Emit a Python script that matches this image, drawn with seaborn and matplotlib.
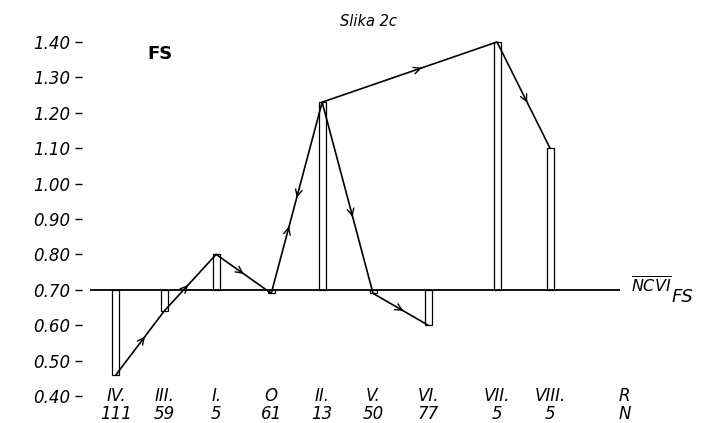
import matplotlib
matplotlib.use('Agg')
import matplotlib.pyplot as plt
import pandas as pd
import seaborn as sns

# data
groups = ['IV.', 'III.', 'I.', 'O', 'II.', 'V.', 'VI.', 'VII.', 'VIII.', 'R']
counts = ['111', '59', '5', '61', '13', '50', '77', '5', '5', 'N']
x_pos = [0.49, 1.40, 2.38, 3.42, 4.38, 5.34, 6.38, 7.68, 8.68, 10.09]
ncvi = [0.46, 0.64, 0.80, 0.69, 1.23, 0.69, 0.60, 1.40, 1.10, None]
mean_ncvi = 0.70

# paths (indices into the lists above) and arrow spots on each segment
path_main = [0, 1, 2, 3, 4, 7, 8]
path_branch = [4, 5, 6]
arrows = [  # (from, to, fraction, reversed)
    (0, 1, 0.6, False), (1, 2, 0.46, False), (2, 3, 0.5, False),
    (3, 4, 0.35, False), (3, 4, 0.5, True), (4, 7, 0.57, False),
    (7, 8, 0.57, False), (4, 5, 0.6, False), (5, 6, 0.55, False),
]

sns.set_style('white')
plt.rcParams['font.family'] = ['DejaVu Sans']
plt.rcParams['mathtext.fontset'] = 'dejavusans'
plt.rcParams['text.color'] = 'black'
plt.rcParams['ytick.color'] = 'black'
plt.rcParams['ytick.labelcolor'] = 'black'

fig = plt.figure(figsize=(7.03, 4.23), dpi=100)
ax = fig.add_axes([90 / 703, 0.0052, 530 / 703, 0.9374])

bars = pd.DataFrame({'x': x_pos[:9], 'h': [v - mean_ncvi for v in ncvi[:9]]})
sns.barplot(data=bars, x='x', y='h', native_scale=True, width=0.145,
            bottom=mean_ncvi, color='white', edgecolor='black', linewidth=0.9,
            errorbar=None, ax=ax)

for path in (path_main, path_branch):
    seg = pd.DataFrame({'x': [x_pos[i] for i in path], 'y': [ncvi[i] for i in path]})
    sns.lineplot(data=seg, x='x', y='y', sort=False, color='black', linewidth=1.2,
                 estimator=None, ax=ax)

for a, b, f, rev in arrows:
    x0, y0, x1, y1 = x_pos[a], ncvi[a], x_pos[b], ncvi[b]
    if rev:
        x0, y0, x1, y1 = x1, y1, x0, y0
    xm, ym = x0 + f * (x1 - x0), y0 + f * (y1 - y0)
    ax.annotate('', xy=(xm, ym), xytext=(xm - 0.02 * (x1 - x0), ym - 0.02 * (y1 - y0)),
                arrowprops=dict(arrowstyle='->', color='black', lw=1.0,
                                mutation_scale=12))

ax.axhline(mean_ncvi, color='black', linewidth=1.3, zorder=1)

for s in ['top', 'right', 'bottom', 'left']:
    ax.spines[s].set_visible(False)
ax.spines['left'].set_position(('outward', 5.8))

ax.set_xlim(0, 10)
ax.set_ylim(0.33, 1.45)
ax.set_yticks([0.40, 0.50, 0.60, 0.70, 0.80, 0.90, 1.00, 1.10, 1.20, 1.30, 1.40])
ax.set_yticklabels(['0.40', '0.50', '0.60', '0.70', '0.80', '0.90', '1.00',
                    '1.10', '1.20', '1.30', '1.40'], fontstyle='italic', fontsize=12)
ax.set_xticks([])
ax.set_xlabel('')
ax.set_ylabel('')
ax.tick_params(axis='y', left=True, length=5, width=1, pad=3.6, color='black')

for x, g, n in zip(x_pos, groups, counts):
    ax.text(x, 0.40, g, ha='center', va='center', fontsize=12, fontstyle='italic',
            clip_on=False)
    ax.text(x, 0.35, n, ha='center', va='center', fontsize=12, fontstyle='italic',
            clip_on=False)

fig.text(0.5235, 0.95, 'Slika 2c', ha='center', va='center', fontsize=10.5,
         fontstyle='italic')
fig.text(0.2276, 0.872, 'FS', ha='center', va='center', fontsize=13, fontweight='bold')
fig.text(631 / 703, (423 - 286) / 423, r'$\overline{NCVI}$', ha='left', va='center',
         fontsize=11.5)
fig.text(672 / 703, (423 - 297) / 423, 'FS', ha='left', va='center', fontsize=13,
         fontstyle='italic')

plt.savefig('out.png', dpi=100)
